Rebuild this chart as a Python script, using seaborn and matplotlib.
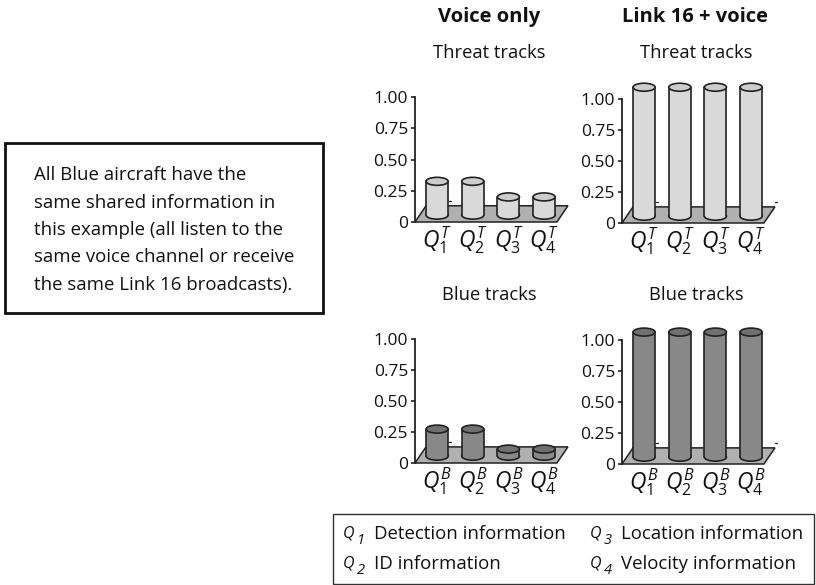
import matplotlib
matplotlib.use("Agg")
import matplotlib.pyplot as plt
import seaborn as sns
import pandas as pd
from matplotlib.patches import Ellipse, Polygon, Rectangle

W, H = 816, 585

questions = ["1", "2", "3", "4"]
voice_threat = [0.26, 0.26, 0.14, 0.14]
link_threat = [1.0, 1.0, 1.0, 1.0]
voice_blue = [0.21, 0.21, 0.055, 0.055]
link_blue = [0.97, 0.97, 0.97, 0.97]
y_ticks = [0, 0.25, 0.5, 0.75, 1.0]
y_labels = ["0", "0.25", "0.50", "0.75", "1.00"]

THREAT = "#d9d9d9"
THREAT_TOP = "#cccccc"
BLUE = "#888888"
BLUE_TOP = "#707070"
FLOOR = "#b0b0b0"
LINE = "#222222"
TEXT = "#111111"
BASE = 0.055
SCALE = 1.04

sns.set_theme(style="white")
plt.rcParams["font.family"] = ["Open Sans", "DejaVu Sans"]
plt.rcParams["mathtext.fontset"] = "custom"
plt.rcParams["mathtext.it"] = "Open Sans:italic"
plt.rcParams["mathtext.rm"] = "Open Sans"

fig = plt.figure(figsize=(W / 100, H / 100), dpi=100)


def panel(left, top, bottom, values, letter, color, top_color, title, title_y, right_tick):
    # axes box in pixels, spine at left, right edge at end of the floor
    right = left + 153
    ax = fig.add_axes([left / W, 1 - bottom / H, (right - left) / W, (bottom - top) / H])
    df = pd.DataFrame({"q": questions, "v": [v * SCALE for v in values]})
    sns.barplot(data=df, x="q", y="v", color=color, width=0.617, bottom=BASE,
                saturation=1, linewidth=0, ax=ax, zorder=3, clip_on=False)
    ax.set_xlim(-0.62, 3.67)
    ax.set_ylim(0, 1)
    px_x = (right - left) / 4.29
    px_y = bottom - top

    # floor of the 3d chart
    dx = 11 / px_x
    floor = Polygon([(-0.62, 0), (3.36, 0), (3.36 + dx, 0.13), (-0.62 + dx, 0.13)],
                    closed=True, fc=FLOOR, ec=LINE, lw=1.1, zorder=1, clip_on=False)
    ax.add_patch(floor)
    # small ticks of the back wall
    tick_x = [-0.62 + 33.5 / px_x]
    if right_tick:
        tick_x.append(3.36 + dx)
    for xp in tick_x:
        ax.plot([xp, xp + 2.5 / px_x], [0.17, 0.17], color=LINE, lw=0.9, zorder=1, clip_on=False)

    for bar in list(ax.patches):
        if not isinstance(bar, Rectangle):
            continue
        x0, w = bar.get_x(), bar.get_width()
        y0, y1 = bar.get_y(), bar.get_y() + bar.get_height()
        cx = x0 + w / 2
        eh = 8 / px_y
        ax.add_patch(Ellipse((cx, y0), w, eh, fc=color, ec=LINE, lw=1.2, zorder=2, clip_on=False))
        ax.add_patch(Ellipse((cx, y1), w, eh, fc=top_color, ec=LINE, lw=1.2, zorder=5, clip_on=False))
        ax.plot([x0, x0], [y0, y1], color=LINE, lw=1.2, zorder=4, clip_on=False)
        ax.plot([x0 + w, x0 + w], [y0, y1], color=LINE, lw=1.2, zorder=4, clip_on=False)

    sns.despine(ax=ax, bottom=True, top=True, right=True)
    ax.spines["left"].set_color(LINE)
    ax.spines["left"].set_linewidth(1.3)
    ax.set_yticks(y_ticks)
    ax.set_yticklabels(y_labels, fontsize=12.5, color=TEXT)
    ax.tick_params(axis="y", length=3, width=1.2, color=LINE, pad=2, left=True)
    ax.set_xticks(range(4))
    ax.set_xticklabels([rf"$Q_{{\mathit{{{q}}}}}^{{{letter}}}$" for q in questions], fontsize=16.5, color=TEXT)
    ax.tick_params(axis="x", length=0, pad=2)
    ax.set_xlabel("")
    ax.set_ylabel("")
    ax.patch.set_alpha(0)
    fig.text((left + 74) / W, 1 - title_y / H, title, ha="center", va="center",
             fontsize=13.2, color=TEXT)
    return ax


panel(415, 97, 222, voice_threat, "T", THREAT, THREAT_TOP, "Threat tracks", 53, False)
panel(622, 99, 223, link_threat, "T", THREAT, THREAT_TOP, "Threat tracks", 53, True)
panel(415, 339, 463, voice_blue, "B", BLUE, BLUE_TOP, "Blue tracks", 295, False)
panel(622, 340, 464, link_blue, "B", BLUE, BLUE_TOP, "Blue tracks", 295, True)

fig.text(489 / W, 1 - 17 / H, "Voice only", ha="center", va="center", fontsize=14.5, fontweight="bold", color=TEXT)
fig.text(695 / W, 1 - 17 / H, "Link 16 + voice", ha="center", va="center", fontsize=14.5, fontweight="bold", color=TEXT)

# note box on the left
fig.add_artist(Rectangle((5 / W, 1 - 313 / H), 318 / W, 170 / H, transform=fig.transFigure,
                         fc="white", ec="#111111", lw=2))
note_lines = ["All Blue aircraft have the", "same shared information in",
              "this example (all listen to the", "same voice channel or receive",
              "the same Link 16 broadcasts)."]
for i, line in enumerate(note_lines):
    fig.text(34 / W, 1 - (175 + i * 27.5) / H, line, ha="left", va="center", fontsize=13.4, color=TEXT)

# key at the bottom
fig.add_artist(Rectangle((333 / W, 1 - 584 / H), 481 / W, 70 / H, transform=fig.transFigure,
                         fc="white", ec="#333333", lw=1))
key_left = [("1", "Detection information"), ("2", "ID information")]
key_right = [("3", "Location information"), ("4", "Velocity information")]
for col_x, items in [(343, key_left), (590, key_right)]:
    for i, (q, label) in enumerate(items):
        y_px = 534 + i * 30
        fig.text(col_x / W, 1 - y_px / H, "Q", ha="left", va="center", fontsize=11.5, style="italic", color=TEXT)
        fig.text((col_x + 14) / W, 1 - (y_px + 7) / H, q, ha="left", va="center", fontsize=10.5, style="italic", color=TEXT)
        fig.text((col_x + 31) / W, 1 - y_px / H, label, ha="left", va="center", fontsize=13.4, color=TEXT)

fig.savefig("out.png", dpi=100)
